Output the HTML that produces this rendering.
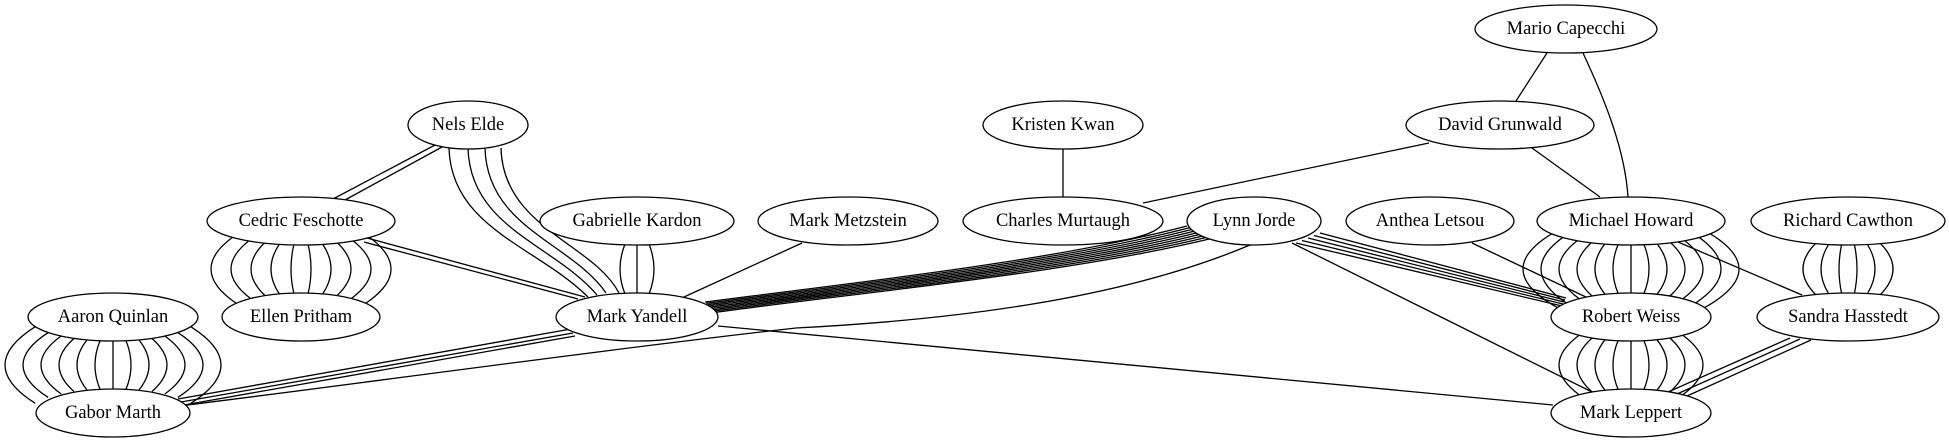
<!DOCTYPE html>
<html><head><meta charset="utf-8"><style>
html,body{margin:0;padding:0;background:#fff;width:1949px;height:443px;overflow:hidden}
svg{display:block}
text{font-family:"Liberation Serif",serif;font-size:18.5px;text-anchor:middle;dominant-baseline:central;fill:#000}
</style></head><body>
<svg id="g" width="1949" height="443" viewBox="0 0 1949 443" xmlns="http://www.w3.org/2000/svg">
<g id="edges" fill="none" stroke="#000" stroke-width="1.3"></g>
<g id="nodes" fill="#fff" stroke="#000" stroke-width="1.3">
<ellipse cx="468" cy="125" rx="60" ry="24"/>
<ellipse cx="301" cy="221" rx="94" ry="24"/>
<ellipse cx="637" cy="221" rx="97" ry="24"/>
<ellipse cx="848" cy="221" rx="90" ry="24"/>
<ellipse cx="113" cy="317" rx="85" ry="24"/>
<ellipse cx="301" cy="317" rx="79" ry="24"/>
<ellipse cx="637" cy="317" rx="81" ry="24"/>
<ellipse cx="113" cy="413" rx="77" ry="24"/>
<ellipse cx="1566" cy="29" rx="91" ry="24"/>
<ellipse cx="1063" cy="125" rx="80" ry="24"/>
<ellipse cx="1500" cy="125" rx="94" ry="24"/>
<ellipse cx="1063" cy="221" rx="100" ry="24"/>
<ellipse cx="1254" cy="221" rx="67" ry="24"/>
<ellipse cx="1430" cy="221" rx="84" ry="24"/>
<ellipse cx="1631" cy="221" rx="94" ry="24"/>
<ellipse cx="1848" cy="221" rx="97" ry="24"/>
<ellipse cx="1631" cy="317" rx="80" ry="24"/>
<ellipse cx="1848" cy="317" rx="91" ry="24"/>
<ellipse cx="1631" cy="413" rx="80" ry="24"/>
</g>
<g>
<text x="468" y="125">Nels Elde</text>
<text x="301" y="221">Cedric Feschotte</text>
<text x="637" y="221">Gabrielle Kardon</text>
<text x="848" y="221">Mark Metzstein</text>
<text x="113" y="317">Aaron Quinlan</text>
<text x="301" y="317">Ellen Pritham</text>
<text x="637" y="317">Mark Yandell</text>
<text x="113" y="413">Gabor Marth</text>
<text x="1566" y="29">Mario Capecchi</text>
<text x="1063" y="125">Kristen Kwan</text>
<text x="1500" y="125">David Grunwald</text>
<text x="1063" y="221">Charles Murtaugh</text>
<text x="1254" y="221">Lynn Jorde</text>
<text x="1430" y="221">Anthea Letsou</text>
<text x="1631" y="221">Michael Howard</text>
<text x="1848" y="221">Richard Cawthon</text>
<text x="1631" y="317">Robert Weiss</text>
<text x="1848" y="317">Sandra Hasstedt</text>
<text x="1631" y="413">Mark Leppert</text>
</g>
</svg>
<script>
(function(){
var E=document.getElementById('edges'),d=[];
function P(s){d.push(s);}
function fan(cx,y1,y2,rx,n,sp){
  var ry=24;
  for(var i=0;i<n;i++){
    var k=i-(n-1)/2, m=k*sp, e=m*0.72;
    if(Math.abs(e)>rx*0.92) e=(e>0?1:-1)*rx*0.92;
    var t=Math.sqrt(Math.max(0,1-(e/rx)*(e/rx)))*ry;
    var sy=y1+t, ey=y2-t, c=(8*m-2*e)/6;
    P('M'+(cx+e)+','+sy+' C'+(cx+c)+','+(sy+(ey-sy)/3)+' '+(cx+c)+','+(sy+2*(ey-sy)/3)+' '+(cx+e)+','+ey);
  }
}
fan(113,317,413,85,13,18);
fan(301,221,317,79,10,20);
fan(1631,221,317,80,13,18);
fan(1848,221,317,91,6,18);
fan(1631,317,413,80,9,18);
fan(637,221,317,81,3,17);
// Nels-Cedric
P('M435,145 L333,199');P('M442,147 L345,200');
// Nels-Yandell
var ns=[[449,148,588,297],[468,148,597,295],[485,148,606,293],[501,148,619,293]];
ns.forEach(function(a,i){P('M'+a[0]+','+a[1]+' C'+(a[0]+2)+','+(a[1]+80)+' '+(a[2]-50+i*8)+','+(a[3]-50)+' '+a[2]+','+a[3]);});
// Cedric-Yandell
P('M367,238 L585,297');P('M364,242 L578,299');
// Metzstein-Yandell
P('M802,243 L684,297');
// Yandell-Gabor
P('M571,329 L178,399');P('M573,333 L181,402');P('M575,336 L184,405');
// Lynn-Gabor
P('M1250,245 C1120,300 950,320 796,328 C600,350 350,385 187,405');
// Lynn-Yandell
for(var i=0;i<9;i++){
  var sx=1187+i*3.3, sy=226+i*1.5, ex=705+i*1.3, ey=302+i*1.3;
  P('M'+sx+','+sy+' C'+(1050+i*2)+','+(262+i*1.5)+' '+(850)+','+(283+i*1.3)+' '+ex+','+ey);
}
// Yandell-Leppert
P('M718,326 L1553,405');
// Kristen-Charles
P('M1063,149 L1063,197');
// David-Charles
P('M1429,143 L1143,203');
// Mario-David
P('M1547,53 L1516,101');
// Mario-Michael
P('M1583,53 C1605,100 1625,150 1628,197');
// David-Michael
P('M1532,148 L1600,197');
// Lynn-Robert
for(var i=0;i<5;i++){P('M'+(1320-i*6)+','+(233+i*2.5)+' L'+(1566-i*1)+','+(298+i*2));}
// Lynn-Leppert
P('M1292,243 L1594,393');
// Anthea-Robert
P('M1472,243 L1588,298');
// Michael-Sandra
P('M1678,242 L1802,295');
// Sandra-Leppert
P('M1790,338 L1668,392');P('M1800,339 L1677,394');P('M1811,340 L1687,396');
E.innerHTML=d.map(function(s){return '<path d="'+s+'"/>';}).join('');
})();
</script>
</body></html>
